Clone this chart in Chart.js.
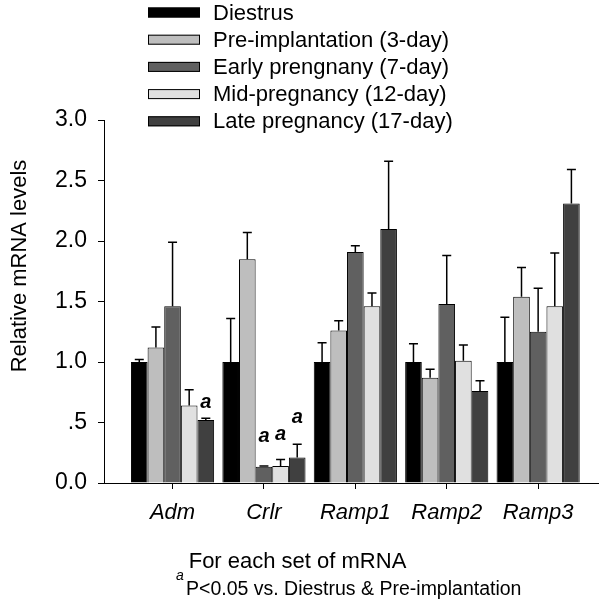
<!DOCTYPE html>
<html>
<head>
<meta charset="utf-8">
<script src="https://cdn.jsdelivr.net/npm/chart.js@4.4.0/dist/chart.umd.min.js"></script>
<style>
  html, body { margin: 0; padding: 0; background: #fff; }
  canvas { display: block; }
</style>
</head>
<body>
<canvas id="grafico" width="600" height="606"></canvas>
<script>
// genes no eixo x
const genes = ['Adm', 'Crlr', 'Ramp1', 'Ramp2', 'Ramp3'];
const grupos = ['Diestrus', 'Pre-implantation (3-day)', 'Early prengnany (7-day)', 'Mid-pregnancy (12-day)', 'Late pregnancy (17-day)'];
const cores = ['#000000', '#bebebe', '#606060', '#e0e0e0', '#404040'];

// médias (uma posição por gene)
const diestrus   = [1.00, 1.00, 1.00, 1.00, 1.00];
const preImplant = [1.12, 1.85, 1.26, 0.87, 1.54];
const early      = [1.46, 0.135, 1.91, 1.48, 1.25];
const mid        = [0.64, 0.14, 1.46, 1.01, 1.46];
const late       = [0.52, 0.21, 2.10, 0.76, 2.31];

// erro (só para cima)
const errDiestrus = [0.02, 0.36, 0.16, 0.15, 0.37];
const errPre      = [0.17, 0.22, 0.08, 0.07, 0.24];
const errEarly    = [0.53, 0.005, 0.05, 0.40, 0.36];
const errMid      = [0.13, 0.055, 0.11, 0.13, 0.44];
const errLate     = [0.015, 0.11, 0.56, 0.085, 0.28];

// eixo y
const yTicks = [0, 0.5, 1.0, 1.5, 2.0, 2.5, 3.0];
const yTickLabels = ['0.0', '.5', '1.0', '1.5', '2.0', '2.5', '3.0'];

// marcas "a" (gene, grupo, altura)
const sigGene  = [0, 1, 1, 1];
const sigGrupo = [4, 2, 3, 4];
const sigAltura = [0.62, 0.34, 0.355, 0.50];

const medias = [diestrus, preImplant, early, mid, late];
const erros = [errDiestrus, errPre, errEarly, errMid, errLate];

const FONTE = '"Liberation Sans", Arial, sans-serif';

const errorBars = {
  id: 'errorBars',
  afterDatasetsDraw(chart) {
    const ctx = chart.ctx;
    const y = chart.scales.y;
    ctx.save();
    ctx.strokeStyle = '#000';
    ctx.lineWidth = 1.5;
    medias.forEach((serie, i) => {
      const meta = chart.getDatasetMeta(i);
      meta.data.forEach((bar, j) => {
        const topo = y.getPixelForValue(serie[j] + erros[i][j]);
        ctx.beginPath();
        ctx.moveTo(bar.x, bar.y);
        ctx.lineTo(bar.x, topo);
        ctx.moveTo(bar.x - 4.5, topo);
        ctx.lineTo(bar.x + 4.5, topo);
        ctx.stroke();
      });
    });
    // letras de significância
    ctx.fillStyle = '#000';
    ctx.font = 'italic bold 20px ' + FONTE;
    ctx.textAlign = 'center';
    ctx.textBaseline = 'alphabetic';
    sigGene.forEach((g, k) => {
      const bar = chart.getDatasetMeta(sigGrupo[k]).data[g];
      ctx.fillText('a', bar.x, y.getPixelForValue(sigAltura[k]));
    });
    ctx.restore();
  }
};

const textos = {
  id: 'textos',
  afterDraw(chart) {
    const ctx = chart.ctx;
    ctx.save();
    ctx.fillStyle = '#000';
    // legenda
    ctx.font = '22px ' + FONTE;
    ctx.textAlign = 'left';
    ctx.textBaseline = 'middle';
    grupos.forEach((nome, i) => {
      const cy = 12.5 + i * 27.2;
      ctx.fillStyle = cores[i];
      ctx.fillRect(148, cy - 5, 52, 10);
      ctx.strokeStyle = '#000';
      ctx.lineWidth = 1;
      ctx.strokeRect(148.5, cy - 4.5, 51, 9);
      ctx.fillStyle = '#000';
      ctx.fillText(nome, 213, cy + 1);
    });
    // título y
    ctx.save();
    ctx.translate(20, 266);
    ctx.rotate(-Math.PI / 2);
    ctx.textAlign = 'center';
    ctx.fillText('Relative mRNA levels', 0, 0);
    ctx.restore();
    // título x
    ctx.textAlign = 'center';
    ctx.textBaseline = 'alphabetic';
    ctx.fillText('For each set of mRNA', 297.5, 568);
    // nota
    ctx.textAlign = 'left';
    ctx.font = 'italic 14px ' + FONTE;
    ctx.fillText('a', 176, 580);
    ctx.font = '19.5px ' + FONTE;
    ctx.fillText('P<0.05 vs. Diestrus & Pre-implantation', 186, 595);
    ctx.restore();
  }
};

const ctx = document.getElementById('grafico').getContext('2d');
const grafico = new Chart(ctx, {
  type: 'bar',
  data: {
    datasets: grupos.map((nome, i) => ({
      label: nome,
      data: medias[i].map((v, j) => ({ x: j, y: v })),
      backgroundColor: cores[i],
      borderColor: '#000',
      borderWidth: 1,
      categoryPercentage: 0.91,
      barPercentage: 1.0
    }))
  },
  options: {
    responsive: false,
    animation: false,
    layout: { padding: { top: 120, right: 2, left: 0, bottom: 0 } },
    plugins: { legend: { display: false }, tooltip: { enabled: false } },
    scales: {
      x: {
        type: 'linear',
        min: -0.75,
        max: 4.655,
        offset: false,
        grid: { offset: false, drawOnChartArea: false, color: '#000', tickLength: 6 },
        border: { color: '#000', width: 1 },
        afterBuildTicks: s => { s.ticks = genes.map((g, i) => ({ value: i })); },
        afterFit: s => { s.height = 123; },
        ticks: {
          color: '#000',
          padding: 11,
          font: { family: FONTE, size: 22, style: 'italic' },
          maxRotation: 0,
          callback: v => genes[v]
        }
      },
      y: {
        min: 0,
        max: 3,
        grid: { drawOnChartArea: false, color: '#000', tickLength: 6 },
        border: { color: '#000', width: 1 },
        afterBuildTicks: s => { s.ticks = yTicks.map(v => ({ value: v })); },
        afterFit: s => { s.width = 104; },
        ticks: {
          color: '#000',
          padding: 11,
          font: { family: FONTE, size: 23 },
          callback: (v, i) => yTickLabels[i]
        }
      }
    }
  },
  plugins: [errorBars, textos]
});
</script>
</body>
</html>
